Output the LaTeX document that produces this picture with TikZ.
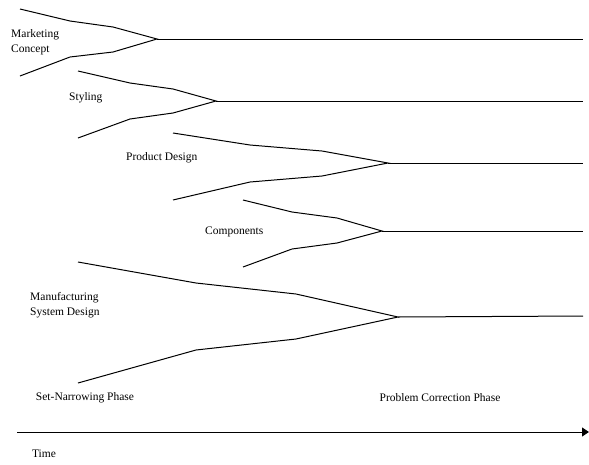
\documentclass[tikz,border=0pt]{standalone}
\usepackage{fontspec}
\setmainfont{Liberation Serif}
\usetikzlibrary{arrows.meta}
\begin{document}
\begin{tikzpicture}[x=1pt,y=-1pt,
  branch/.style={line width=1pt,line join=miter},
  label/.style={font=\fontsize{11.5}{15}\selectfont,inner sep=0pt},
  lab/.style={label,anchor=west,align=left}]
\useasboundingbox (0,0) rectangle (589,464);

% Marketing concept
\coordinate (m1) at (20,9);   \coordinate (m2) at (20,76);
\coordinate (mt) at (157,39); \coordinate (me) at (583,39);
\draw[branch] (m1) -- (70,21) -- (113,27) -- (mt) -- (113,52) -- (70,57) -- (m2);
\draw[branch] (mt) -- (me);
\node[lab] (mc) at (11,42) {Marketing\\Concept};

% Styling
\coordinate (s1) at (78,71);   \coordinate (s2) at (78,138);
\coordinate (st) at (216,101); \coordinate (se) at (583,101);
\draw[branch] (s1) -- (130,83) -- (173,89) -- (st) -- (173,113) -- (130,119) -- (s2);
\draw[branch] (st) -- (se);
\node[lab] (sty) at (69,98) {Styling};

% Product design
\coordinate (p1) at (173,133); \coordinate (p2) at (173,200);
\coordinate (pt) at (388,163); \coordinate (pe) at (583,163);
\draw[branch] (p1) -- (250,145) -- (322,151) -- (pt) -- (322,176) -- (250,182) -- (p2);
\draw[branch] (pt) -- (pe);
\node[lab] (pd) at (126,158) {Product Design};

% Components
\coordinate (c1) at (243,200); \coordinate (c2) at (243,267);
\coordinate (ct) at (382,231); \coordinate (ce) at (583,231);
\draw[branch] (c1) -- (292,212) -- (337,218) -- (ct) -- (337,243) -- (292,249) -- (c2);
\draw[branch] (ct) -- (ce);
\node[lab] (cp) at (205,232) {Components};

% Manufacturing system design
\coordinate (f1) at (78,262);  \coordinate (f2) at (78,383);
\coordinate (ft) at (398,317); \coordinate (fe) at (583,316);
\draw[branch] (f1) -- (196,283) -- (296,294) -- (ft) -- (296,339) -- (196,350) -- (f2);
\draw[branch] (ft) -- (fe);
\node[lab] (msd) at (30,305) {Manufacturing\\System Design};

% Phases
\node[label] (snp) at (85,398) {Set-Narrowing Phase};
\node[label] (pcp) at (440,398) {Problem Correction Phase};

% Time axis
\coordinate (t0) at (17,432);
\coordinate (t1) at (589,432);
\draw[line width=1pt,-{Triangle[length=7pt,width=9pt]}] (t0) -- (t1);
\node[label] (tm) at (44,454) {Time};
\end{tikzpicture}
\end{document}
